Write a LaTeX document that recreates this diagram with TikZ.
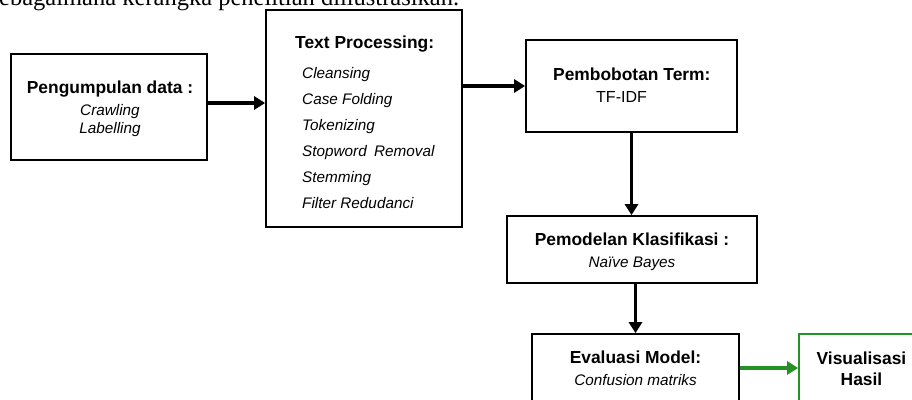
\documentclass[tikz,border=0pt]{standalone}
\usepackage{fontspec}
\setmainfont{Liberation Sans}
\newfontfamily\seriffont{Liberation Serif}
\usetikzlibrary{arrows.meta}
\definecolor{arrgreen}{RGB}{36,146,36}
\begin{document}
\begin{tikzpicture}[x=1pt,y=-1pt,
  box/.style={draw=black, line width=1.7pt, inner sep=0pt},
  gbox/.style={draw=arrgreen, line width=1.7pt, inner sep=0pt},
  ttl/.style={inner sep=0pt, anchor=base, font=\fontsize{17.4}{20}\selectfont\bfseries},
  itm/.style={inner sep=0pt, anchor=base, font=\fontsize{15.3}{18}\selectfont\itshape},
  itl/.style={inner sep=0pt, anchor=base west, font=\fontsize{15.3}{18}\selectfont\itshape},
  arr/.style={line width=3.5pt, -{Triangle[length=11pt,width=13pt]}},
  garr/.style={arr, draw=arrgreen, -{Triangle[length=11pt,width=13pt,fill=arrgreen]}}
]
\useasboundingbox (0,0) rectangle (912,399);
\clip (0,0) rectangle (912,399);
\fill[white] (0,0) rectangle (912,399);

% cropped caption line at top
\node[inner sep=0pt, anchor=base west, font=\seriffont\fontsize{24.5}{28}\selectfont] (cap) at (-1,5) {ebagaimana kerangka penelitian diilustrasikan.};

% boxes
\node[box, minimum width=196pt, minimum height=106pt] (b1) at (109,107) {};
\node[box, minimum width=196pt, minimum height=217pt] (b2) at (364,118.5) {};
\node[box, minimum width=211pt, minimum height=92pt] (b3) at (631.5,86) {};
\node[box, minimum width=250pt, minimum height=67pt] (b4) at (632,249.5) {};
\node[box, minimum width=207pt, minimum height=90pt] (b5) at (635.5,379) {};
\node[gbox, minimum width=150pt, minimum height=90pt] (b6) at (874,379) {};

% texts box 1
\node[ttl] (t1) at (110,93) {Pengumpulan data :};
\node[itm] (t1a) at (110,115) {Crawling};
\node[itm] (t1b) at (110,133) {Labelling};

% texts box 2
\node[ttl, anchor=base west] (t2) at (295,48) {Text Processing:};
\node[itl] (t2a) at (302,78) {Cleansing};
\node[itl] (t2b) at (302,104) {Case Folding};
\node[itl] (t2c) at (302,130) {Tokenizing};
\node[itl] (t2d) at (302,156) {Stopword\hspace{0.2em} Removal};
\node[itl] (t2e) at (302,182) {Stemming};
\node[itl] (t2f) at (302,208) {Filter Redudanci};

% texts box 3
\node[ttl, anchor=base west] (t3) at (553,80) {Pembobotan Term:};
\node[inner sep=0pt, anchor=base west, font=\fontsize{16}{18}\selectfont] (t3a) at (596,102) {TF-IDF};

% texts box 4
\node[ttl] (t4) at (632,245) {Pemodelan Klasifikasi :};
\node[itm] (t4a) at (632,267) {Naïve Bayes};

% texts box 5
\node[ttl] (t5) at (635.5,363) {Evaluasi Model:};
\node[itm] (t5a) at (635.5,385) {Confusion matriks};

% texts box 6
\node[ttl] (t6) at (861.5,364) {Visualisasi};
\node[ttl] (t6a) at (861.5,385) {Hasil};

% connectors
\draw[arr] (b1.east |- 0,103) -- (b2.west |- 0,103);
\draw[arr] (b2.east |- b3.west) -- (b3.west);
\draw[arr] (b3.south) -- (b4.north -| b3.south);
\draw[arr] (b5.north |- b4.south) -- (b5.north);
\draw[garr] (b5.east |- 0,368) -- (b6.west |- 0,368);
\end{tikzpicture}
\end{document}
